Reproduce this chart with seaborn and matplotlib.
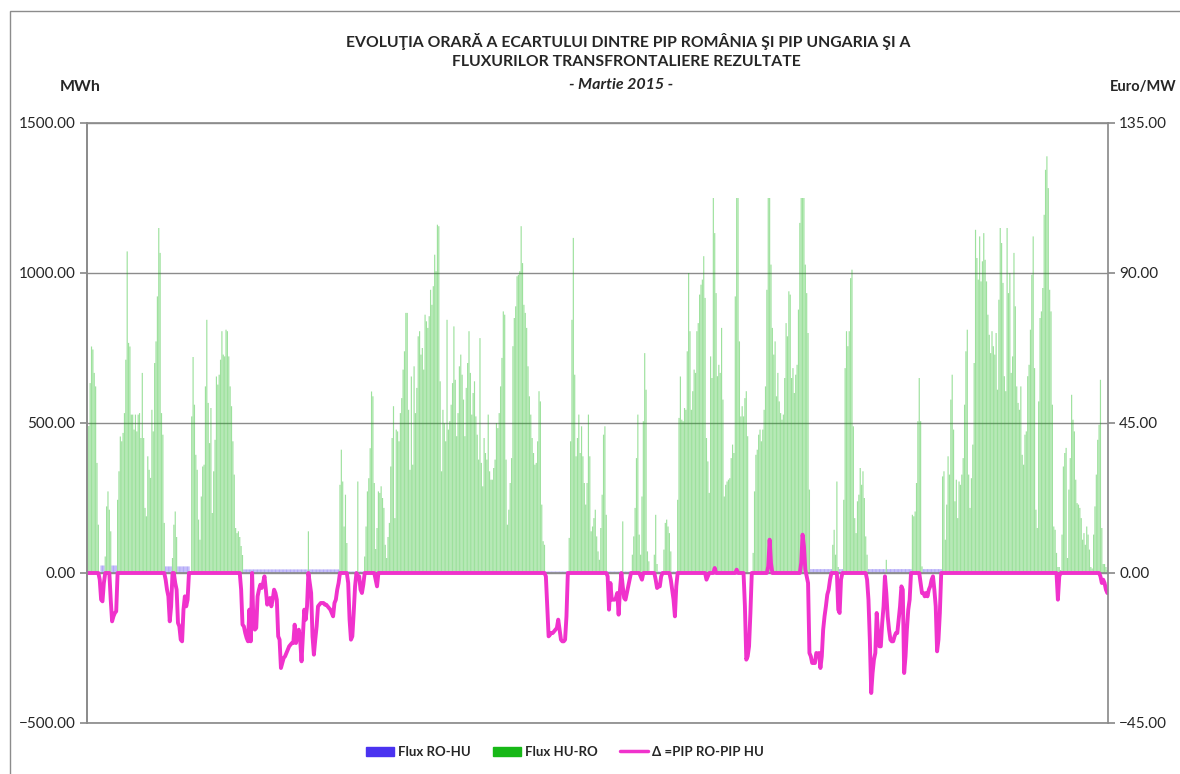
"""Hourly RO-HU price spread (PIP) and resulting cross-border flows, March 2015."""
import matplotlib

matplotlib.use("Agg")
import matplotlib.pyplot as plt
import numpy as np
import pandas as pd
import seaborn as sns
from matplotlib.lines import Line2D
from matplotlib.patches import Patch, Rectangle
from matplotlib.ticker import StrMethodFormatter

GREEN = "#17B817"
BLUE = "#4A33F0"
PINK = "#F032CC"
GRID = "#8C8C8C"

# Flux HU-RO, MWh per hour - one line per day (24 h)
HU_RO_W1 = [
    470, 490, 633, 755, 745, 667, 622, 367, 161, 0, 0, 0, 0, 55, 222, 272, 211, 139, 0, 0, 0, 0, 244, 339,
    455, 439, 467, 533, 711, 1072, 767, 755, 528, 528, 478, 528, 472, 528, 533, 450, 667, 450, 217, 189, 389, 344, 317, 544,
    472, 700, 772, 922, 1150, 1067, 533, 461, 167, 0, 0, 0, 0, 0, 50, 161, 205, 120, 0, 0, 0, 0, 0, 0,
    0, 0, 0, 0, 522, 720, 561, 394, 344, 178, 111, 255, 355, 361, 622, 844, 567, 433, 550, 200, 339, 444, 655, 628,
    661, 711, 806, 728, 722, 811, 806, 722, 622, 556, 439, 328, 150, 133, 139, 120, 90, 60, 0, 0, 0, 0, 0, 0,
    0, 0, 0, 0, 0, 0, 0, 0, 0, 0, 0, 0, 0, 0, 0, 0, 0, 0, 0, 0, 0, 0, 0, 0,
    0, 0, 0, 0, 0, 0, 0, 0, 0, 0, 0, 0, 0, 0, 0, 0, 0, 139, 0, 0, 0, 0, 0, 0,
]
HU_RO_W2 = [
    0, 0, 0, 0, 0, 0, 0, 0, 0, 0, 0, 0, 0, 0, 0, 0, 294, 411, 305, 155, 261, 100, 0, 0,
    0, 0, 0, 0, 0, 305, 0, 0, 0, 0, 55, 155, 272, 316, 416, 605, 589, 300, 80, 150, 272, 267, 289, 250,
    217, 94, 50, 120, 167, 355, 450, 556, 183, 478, 472, 439, 533, 583, 678, 739, 867, 867, 544, 344, 655, 361, 689, 533,
    617, 789, 806, 728, 750, 678, 861, 839, 817, 856, 944, 894, 956, 1061, 1006, 1161, 1156, 639, 339, 544, 500, 439, 844, 478,
    506, 561, 633, 822, 644, 456, 533, 689, 728, 661, 578, 456, 617, 700, 806, 667, 528, 600, 639, 522, 461, 378, 783, 367,
    289, 450, 400, 378, 528, 339, 311, 311, 350, 378, 500, 483, 533, 622, 717, 872, 861, 378, 161, 211, 300, 383, 756, 850,
    889, 989, 994, 1006, 1156, 1033, 894, 867, 817, 689, 589, 528, 450, 400, 361, 367, 439, 606, 572, 228, 106, 94, 0, 0,
]
HU_RO_W3 = [
    0, 0, 0, 0, 0, 0, 0, 0, 0, 0, 0, 0, 0, 0, 0, 117, 439, 844, 1117, 661, 389, 450, 528, 400,
    489, 389, 300, 228, 300, 528, 389, 139, 155, 183, 211, 122, 72, 44, 150, 261, 461, 489, 194, 0, 0, 0, 0, 0,
    0, 0, 0, 0, 0, 0, 172, 0, 0, 0, 0, 0, 0, 61, 122, 217, 383, 528, 128, 61, 255, 506, 733, 611,
    72, 39, 0, 0, 0, 61, 194, 30, 0, 0, 0, 0, 78, 167, 178, 155, 133, 72, 0, 0, 0, 0, 244, 517,
    655, 511, 506, 550, 544, 739, 1000, 806, 544, 606, 678, 667, 806, 833, 928, 961, 978, 1056, 917, 450, 372, 267, 722, 650,
    1250, 1133, 933, 656, 694, 667, 817, 578, 255, 294, 305, 311, 316, 383, 428, 400, 922, 1250, 1250, 772, 522, 556, 522, 583,
    606, 456, 0, 0, 0, 67, 272, 394, 411, 461, 478, 439, 478, 544, 622, 944, 1250, 1250, 1028, 817, 728, 772, 589, 667,
]
HU_RO_W4 = [
    572, 533, 511, 528, 650, 833, 789, 939, 928, 650, 683, 600, 661, 694, 878, 1167, 1250, 1250, 1250, 1028, 933, 800, 278, 0,
    0, 0, 0, 0, 0, 0, 0, 0, 0, 0, 0, 0, 0, 0, 0, 94, 144, 61, 305, 20, 0, 0, 0, 244,
    683, 806, 756, 806, 983, 1011, 489, 183, 133, 239, 261, 350, 294, 339, 250, 122, 61, 0, 0, 0, 0, 0, 0, 0,
    0, 0, 0, 0, 0, 0, 44, 0, 0, 0, 0, 0, 0, 0, 0, 0, 0, 0, 0, 0, 0, 0, 0, 0,
    0, 194, 189, 205, 300, 506, 650, 506, 22, 0, 0, 0, 0, 0, 0, 0, 0, 0, 0, 0, 0, 0, 0, 322,
    339, 111, 228, 389, 328, 578, 661, 478, 239, 311, 183, 305, 294, 328, 383, 561, 739, 811, 328, 217, 316, 428, 700, 1144,
    1050, 978, 1122, 972, 1039, 1133, 1044, 972, 861, 794, 733, 806, 756, 728, 800, 611, 911, 1150, 1100, 967, 656, 606, 1150, 933,
]
HU_RO_W5 = [
    1000, 667, 722, 1067, 889, 622, 567, 544, 622, 394, 361, 461, 472, 656, 694, 811, 994, 1122, 683, 211, 150, 572, 850, 872,
    950, 1194, 1344, 1389, 1283, 944, 872, 561, 155, 144, 67, 20, 20, 10, 128, 355, 400, 417, 50, 278, 383, 594, 511, 472,
    311, 233, 228, 217, 183, 111, 133, 94, 155, 128, 78, 20, 15, 128, 222, 328, 444, 494, 644, 150, 30, 30, 20, 10,
]

# Flux RO-HU, MWh per hour (small, only where HU-RO is zero)
RO_HU_W1 = (
    [0] * 10 + [25] * 3 + [0] * 5 + [25] * 4 + [0] * 2
    + [0] * 24
    + [0] * 9 + [22] * 5 + [0] * 4 + [22] * 6
    + [22] * 3 + [0] * 21
    + [0] * 18 + [12] * 6
    + [12] * 24
    + [12] * 17 + [0] + [12] * 6
)
RO_HU_W2 = (
    [12] * 16 + [0] * 6 + [5] * 2
    + [5] * 5 + [0] + [5] * 4 + [0] * 14
    + [0] * 24 * 4
    + [0] * 22 + [5] * 2
)
RO_HU_W3 = (
    [5] * 15 + [0] * 9
    + [0] * 19 + [5] * 5
    + [5] * 6 + [0] + [5] * 6 + [0] * 11
    + [0] * 2 + [5] * 3 + [0] * 3 + [5] * 4 + [0] * 6 + [5] * 4 + [0] * 2
    + [0] * 24 * 3
)
RO_HU_W4 = (
    [0] * 23 + [13]
    + [13] * 15 + [0] * 5 + [13] * 3 + [0]
    + [0] * 17 + [13] * 7
    + [13] * 6 + [0] + [13] * 17
    + [13] + [0] * 8 + [13] * 14 + [0]
    + [0] * 24 * 2
)
RO_HU_W5 = [0] * 24 * 3

# Delta = PIP RO - PIP HU, Euro/MW per hour
DELTA_W1 = (
    [0] * 9 + [-2, -8, -8.5, -3] + [0] * 4 + [-8, -14.5, -13, -12, -11.5, 0, 0]
    + [0] * 24
    + [0] * 9 + [-2, -5, -7, -14.5, -10, 0, 0, -3, -5, -15, -16, -20, -20.5, -11, -7]
    + [-10, -8] + [0] * 22
    + [0] * 16 + [-5, -15.5, -16, -18, -19.5, -20.5, -11, -20.5]
    + [0, -16, -17, -16.5, -7, -5, -3.5, -4.5, -3, -1, -5, -9.5,
       -8, -7.5, -10, -8, -5, -6, -8, -19, -20, -28.5, -27, -25.5]
    + [-25, -24, -23, -22, -21.5, -21, -21, -15.5, -21, -18.5, -17, -20,
       -26.5, -18.5, -11, -14, -10, 0, -3, -6, -19, -24.5, -20, -16]
)
DELTA_W2 = (
    [-10, -9.5, -9, -9, -9, -9.5, -9.5, -10, -10.5, -11, -12, -13, -9, -8, -5, -3] + [0] * 6 + [-3, -14]
    + [-20, -19, -12, -4, 0, -1, -1, -5, -6, -3.5] + [0] * 8 + [-2, -4] + [0] * 4
    + [0] * 24 * 4
    + [0] * 22 + [-1, -10]
)
DELTA_W3 = (
    [-19, -18.5, -18, -18, -17.5, -17, -16.5, -14, -17, -20, -20.5, -20.5, -20, -13] + [0] * 10
    + [0] * 19 + [-1, -11, -3, -8, -8]
    + [-8, -7.5, -6, -12.5, -5, 0, -4, -7.5, -8, -6, -4, -2] + [0] * 7 + [-1, -2, 0, 0, 0]
    + [0] * 6 + [-2, -4.5, -4, -4, -1] + [0] * 6 + [-2, -5, -8, -13, -4, 0, 0]
    + [0] * 19 + [-2, -1, 0, 0, 0]
    + [0, 1.5] + [0] * 15 + [1] + [0] * 5 + [-10]
    + [-26, -25, -22, -12, 0] + [0] * 11 + [2, 10, 3] + [0] * 5
)
DELTA_W4 = (
    [0] * 16 + [3, 11.5, 8, 1, -1, -3, -24, -25]
    + [-27, -27, -27, -24, -24.5, -24, -28.5, -25, -17, -13, -10, -6.5, -5, -2] + [0] * 5 + [-11, -12, -2, 0, 0]
    + [0] * 16 + [-2, -8, -20, -36, -30, -26, -24, -12]
    + [-18, -22, -22, -15, -10, -1, -6, -13, -17, -20, -20.5, -20.5,
       -19, -18, -18, -14, -10, -4, -5, -30, -25, -17, -11, -8]
    + [0] * 7 + [-3, -6, -6, -7, -6, -7, -5, -4, -2, -1, -5, -10, -23.5, -20, -12, 0, 0]
    + [0] * 24 * 2
)
DELTA_W5 = (
    [0] * 24
    + [0] * 11 + [-8, -1] + [0] * 11
    + [0] * 18 + [-1, -3, -2, -3, -5, -6]
)

TITLE_1 = "EVOLUŢIA ORARĂ A ECARTULUI DINTRE PIP ROMÂNIA ŞI PIP UNGARIA ŞI A"
TITLE_2 = "FLUXURILOR TRANSFRONTALIERE REZULTATE"
TITLE_3 = "- Martie 2015 -"

hu_ro = HU_RO_W1 + HU_RO_W2 + HU_RO_W3 + HU_RO_W4 + HU_RO_W5
ro_hu = RO_HU_W1 + RO_HU_W2 + RO_HU_W3 + RO_HU_W4 + RO_HU_W5
delta = DELTA_W1 + DELTA_W2 + DELTA_W3 + DELTA_W4 + DELTA_W5
n_hours = len(hu_ro)
df = pd.DataFrame({"ora": np.arange(n_hours), "hu_ro": hu_ro, "ro_hu": ro_hu, "delta": delta})

sns.set_theme(style="white")
plt.rcParams["font.family"] = ["Lato", "DejaVu Sans"]

W, H = 1180, 774
fig = plt.figure(figsize=(W / 100, H / 100), dpi=100)
left, right, top, bottom = 86.7, 1108, 123, 723
ax = fig.add_axes([left / W, 1 - bottom / H, (right - left) / W, (bottom - top) / H])

# snap=False keeps 1.4 px wide bars evenly shaded instead of pixel-snapped
bar_kw = dict(native_scale=True, alpha=0.42, saturation=1, width=0.85, errorbar=None,
              ax=ax, zorder=2, snap=False, linewidth=0)
sns.barplot(data=df, x="ora", y="hu_ro", color=GREEN, **bar_kw)
sns.barplot(data=df, x="ora", y="ro_hu", color=BLUE, **bar_kw)

ax.set_xlim(-0.5, n_hours - 0.5)
ax.set_ylim(-500, 1500)
ax.set_yticks(range(-500, 1501, 500))
ax.yaxis.set_major_formatter(StrMethodFormatter("{x:.2f}"))
ax.yaxis.grid(True, color=GRID, linewidth=1)
ax.set_axisbelow(True)
ax.set_xlabel("")
ax.set_ylabel("")
ax.spines["bottom"].set_position(("data", 0))
ax.set_xticks([143.5, 287.5, 431.5, 575.5, 719.5])
ax.set_xticklabels([])
ax.tick_params(axis="x", direction="out", length=5, color=GRID, width=1)
ax.tick_params(axis="y", direction="out", length=5, color=GRID, labelsize=11, pad=3)
for side in ("top", "right"):
    ax.spines[side].set_visible(False)
for side in ("left", "bottom"):
    ax.spines[side].set_color(GRID)

ax2 = ax.twinx()
sns.lineplot(data=df, x="ora", y="delta", ax=ax2, color=PINK, linewidth=2.8, errorbar=None)
ax2.lines[0].set_solid_joinstyle("round")
ax2.set_xlim(-0.5, n_hours - 0.5)
ax2.set_ylim(-45, 135)
ax2.set_yticks(range(-45, 136, 45))
ax2.yaxis.set_major_formatter(StrMethodFormatter("{x:.2f}"))
ax2.set_xlabel("")
ax2.set_ylabel("")
ax2.tick_params(axis="y", direction="out", length=5, color=GRID, labelsize=11, pad=3)
for spine in ax2.spines.values():
    spine.set_visible(True)
    spine.set_color(GRID)

fig.text(628 / W, 1 - 42 / H, TITLE_1, ha="center", va="center", fontsize=11.3, weight="bold")
fig.text(626 / W, 1 - 62 / H, TITLE_2, ha="center", va="center", fontsize=11.3, weight="bold")
fig.text(621 / W, 1 - 85 / H, TITLE_3, ha="center", va="center", fontsize=11.5, weight="bold", style="italic")
fig.text(80 / W, 1 - 87 / H, "MWh", ha="center", va="center", fontsize=11.5, weight="bold")
fig.text(1143 / W, 1 - 87 / H, "Euro/MW", ha="center", va="center", fontsize=10.5, weight="bold")

handles = [
    Patch(color=BLUE),
    Patch(color=GREEN),
    Line2D([], [], color=PINK, linewidth=2.5),
]
fig.legend(handles, ["Flux RO-HU", "Flux HU-RO", "Δ =PIP RO-PIP HU"],
           loc="center", bbox_to_anchor=(565 / W, 1 - 752 / H), ncol=3, frameon=False,
           prop={"weight": "bold", "size": 9.5}, handlelength=2.1, handleheight=0.65,
           handletextpad=0.3, columnspacing=1.7)

fig.add_artist(Rectangle((10 / W, -0.1), 1.2, 1.1 - 11 / H, transform=fig.transFigure,
                         fill=False, edgecolor=GRID, linewidth=1))

fig.savefig("out.png", dpi=100)
plt.close(fig)
